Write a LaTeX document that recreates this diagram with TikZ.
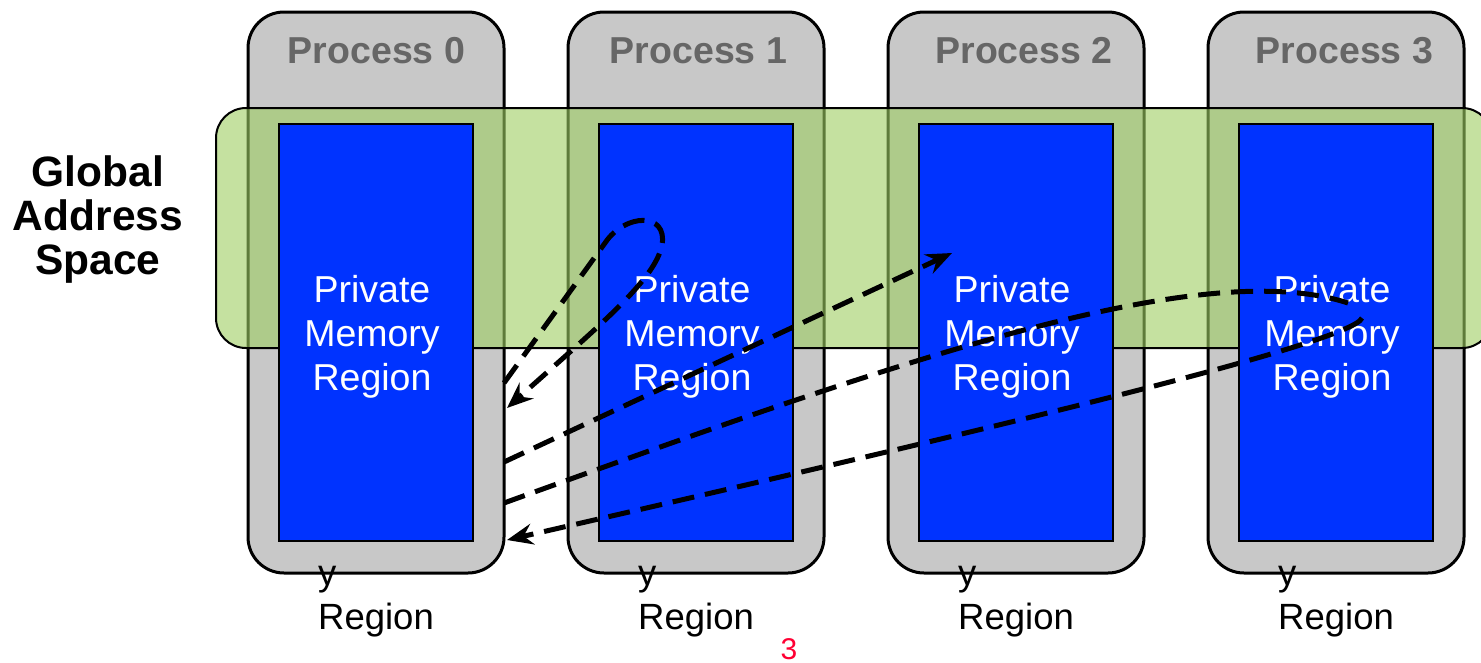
\documentclass[tikz,border=0pt]{standalone}
\usepackage{fontspec}
\setmainfont{Liberation Sans}
\usetikzlibrary{arrows.meta}
\definecolor{procgray}{RGB}{200,200,200}
\definecolor{gasgreen}{RGB}{158,205,97}
\definecolor{memblue}{RGB}{0,51,255}
\definecolor{labelgray}{RGB}{102,102,102}
\definecolor{pagered}{RGB}{255,0,51}
\begin{document}
\begin{tikzpicture}[x=1pt,y=-1pt,
 procbox/.style={draw=black, line width=3pt, fill=procgray, rounded corners=36pt, minimum width=256pt, minimum height=561pt, inner sep=0pt},
 gasband/.style={draw=black, line width=2pt, fill=gasgreen, fill opacity=0.6, draw opacity=1, rounded corners=30pt, minimum width=1276pt, minimum height=240pt, inner sep=0pt},
 memrect/.style={draw=black, line width=2.5pt, fill=memblue, minimum width=194pt, minimum height=417pt, inner sep=0pt},
 proclabel/.style={text=labelgray, font=\bfseries\fontsize{37.5}{44}\selectfont, anchor=base, inner sep=0pt},
 memlabel/.style={text=white, font=\fontsize{37.5}{44}\selectfont, align=center, inner sep=0pt},
 sublabel/.style={text=black, font=\fontsize{36.5}{44}\selectfont, align=left, inner sep=0pt, anchor=west},
 gaslabel/.style={text=black, font=\bfseries\fontsize{42.5}{44}\selectfont, align=center, inner sep=0pt},
 flow/.style={line width=5pt, dash pattern=on 22pt off 11pt},
 flowarrow/.style={flow, -{Stealth[length=26pt,width=21pt,inset=9pt]}}
]
\useasboundingbox (0,0) rectangle (1481,662);
\clip (0,0) rectangle (1481,662);

% process boxes
\foreach \i in {0,1,2,3} {
  \node[procbox] (p\i) at (376+320*\i,292.5) {};
}
% global address space band
\node[gasband] (gas) at (854,228) {};
% private memory regions
\foreach \i in {0,1,2,3} {
  \node[memrect] (m\i) at (376+320*\i,332.5) {};
  \node[memlabel] (ml\i) at (372+320*\i,337) {Private\\Memory\\Region};
  \node[sublabel] (sl\i) at (318+320*\i,601.5) {y\\Region};
}
\node[proclabel] (pl0) at (376.5,63) {Process 0};
\node[proclabel] (pl1) at (698.5,63) {Process 1};
\node[proclabel] (pl2) at (1024,63) {Process 2};
\node[proclabel] (pl3) at (1344.5,63) {Process 3};

\node[gaslabel] (gl) at (98,219.5) {Global\\Address\\Space};
\node[text=pagered, font=\fontsize{30}{36}\selectfont, anchor=base, inner sep=0pt] (pg) at (789,659) {3};

% connector end points
\coordinate (a1) at (504,383);
\coordinate (a2) at (507,408);
\coordinate (b1) at (504,462);
\coordinate (b2) at (952,253);
\coordinate (c1) at (504,503);
\coordinate (c2) at (1348,303);
\coordinate (d1) at (1362,318);
\coordinate (d2) at (507,540);

\draw[flowarrow] (a1) -- (605,243) .. controls (625,213) and (668,212) .. (662,245) .. controls (655,280) and (600,325) .. (a2);
\draw[flowarrow] (b1) -- (b2);
\draw[flow] (c1) .. controls (900,360) and (1200,255) .. (c2);
\draw[flowarrow] (d1) .. controls (1352,345) and (900,450) .. (d2);
\end{tikzpicture}
\end{document}
